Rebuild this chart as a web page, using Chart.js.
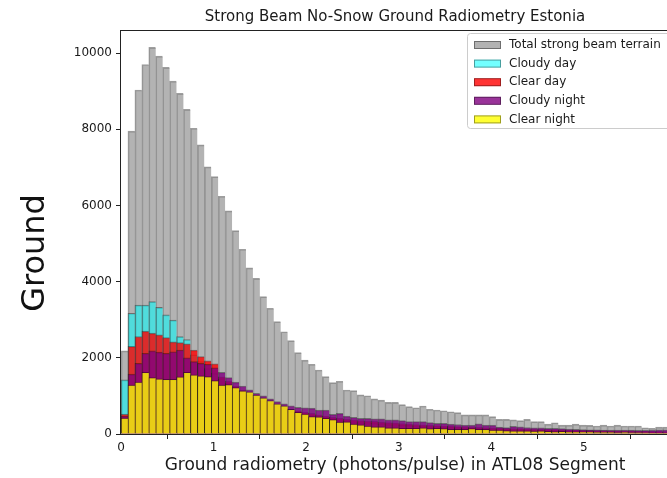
<!DOCTYPE html>
<html>
<head>
<meta charset="utf-8">
<script src="https://cdn.jsdelivr.net/npm/chart.js@4.4.1/dist/chart.umd.min.js"></script>
<style>
  html, body { margin: 0; padding: 0; background: #fff; overflow: hidden; }
  #wrap { width: 672px; height: 478px; }
</style>
</head>
<body>
<div id="wrap"><canvas id="radioChart"></canvas></div>
<script>
// histogram bins start at 0, fixed width (photons/pulse)
var binWidth = 0.075;

// counts per bin, one array per class
var total = [2180, 7950, 9030, 9700, 10150, 9920, 9625, 9265, 8940, 8520,
  8025, 7590, 7010, 6755, 6240, 5855, 5340, 4850, 4360, 4085,
  3605, 3300, 2950, 2685, 2450, 2135, 1940, 1830, 1680, 1505,
  1350, 1385, 1155, 1140, 1025, 1005, 920, 890, 830, 830,
  770, 720, 690, 735, 650, 630, 610, 585, 560, 500,
  500, 500, 500, 455, 385, 385, 370, 350, 385, 325,
  325, 260, 295, 235, 235, 260, 235, 225, 210, 235,
  210, 235, 210, 210, 210, 165, 150, 180, 180];
var cloudyDay = [1420, 3170, 3385, 3385, 3475, 3325, 3125, 2990, 2555, 2480,
  2080, 1900, 1720, 1600, 1450, 1330, 1220, 1120, 1020, 940,
  860, 780, 720, 660, 610, 560, 520, 490, 460, 420,
  390, 370, 340, 320, 300, 290, 280, 270, 250, 240,
  230, 220, 210, 200, 190, 185, 180, 170, 160, 150,
  145, 140, 135, 130, 125, 120, 115, 110, 105, 100,
  95, 90, 90, 85, 80, 80, 75, 75, 70, 70,
  65, 65, 60, 60, 55, 55, 50, 50, 50];
var clearDay = [525, 2300, 2560, 2700, 2650, 2600, 2530, 2420, 2400, 2370,
  2200, 2030, 1920, 1840, 1500, 1380, 1260, 1150, 1060, 980,
  900, 830, 760, 700, 650, 610, 570, 540, 500, 470,
  440, 420, 390, 370, 350, 340, 330, 315, 300, 290,
  275, 260, 250, 240, 230, 220, 215, 205, 195, 185,
  180, 175, 170, 165, 160, 150, 145, 140, 135, 130,
  125, 120, 115, 110, 105, 100, 95, 95, 90, 90,
  85, 85, 80, 80, 75, 75, 70, 70, 65];
var cloudyNight = [470, 1570, 1855, 2120, 2180, 2150, 2120, 2160, 2205, 2000,
  1900, 1855, 1830, 1740, 1620, 1480, 1360, 1260, 1160, 1070,
  1000, 920, 850, 790, 740, 700, 690, 680, 630, 630,
  515, 540, 470, 440, 410, 410, 400, 400, 370, 370,
  350, 325, 325, 325, 300, 280, 280, 260, 250, 235,
  235, 270, 235, 235, 180, 170, 200, 190, 170, 165,
  160, 150, 150, 140, 130, 120, 115, 110, 110, 105,
  105, 100, 100, 100, 95, 95, 100, 110, 110];
var clearNight = [420, 1285, 1360, 1620, 1480, 1450, 1435, 1435, 1500, 1620,
  1550, 1530, 1505, 1400, 1285, 1300, 1220, 1130, 1110, 1020,
  950, 880, 790, 740, 650, 570, 520, 460, 450, 410,
  380, 310, 320, 260, 240, 210, 190, 185, 165, 165,
  150, 150, 150, 160, 140, 150, 140, 125, 125, 125,
  145, 125, 120, 105, 100, 90, 85, 85, 80, 75,
  80, 70, 65, 70, 60, 60, 55, 60, 50, 45,
  50, 40, 45, 40, 35, 30, 25, 20, 20];

var seriesNames = ['Total strong beam terrain', 'Cloudy day', 'Clear day', 'Cloudy night', 'Clear night'];
var seriesColors = ['rgba(128,128,128,0.6)', 'rgba(0,255,255,0.55)', 'rgba(255,0,0,0.8)',
  'rgba(128,0,128,0.8)', 'rgba(255,255,0,0.8)'];
var xTicks = [0, 1, 2, 3, 4, 5];
var yTicks = [0, 2000, 4000, 6000, 8000, 10000];

var edgeColor = 'rgba(0,0,0,0.38)';
var textColor = '#1a1a1a';
Chart.defaults.font.family = '"DejaVu Sans", sans-serif';
Chart.defaults.color = textColor;

// bar centre = middle of each bin
function toPoints(values) {
  return values.map(function (v, i) {
    return { x: (i + 0.5) * binWidth, y: v };
  });
}

var allSeries = [total, cloudyDay, clearDay, cloudyNight, clearNight];
var datasets = allSeries.map(function (values, k) {
  return {
    label: seriesNames[k],
    data: toPoints(values),
    backgroundColor: seriesColors[k],
    borderColor: edgeColor,
    borderWidth: { left: 1, top: 1, right: 0, bottom: 0 },
    borderSkipped: false,
    grouped: false,
    barPercentage: 1,
    categoryPercentage: 1,
    order: allSeries.length - k   // later classes drawn on top
  };
});

// axes frame, plus the legend box and the big y label
var frameAndLegend = {
  id: 'frameAndLegend',
  afterDatasetsDraw: function (chart) {
    var a = chart.chartArea;
    var ctx = chart.ctx;
    ctx.save();
    ctx.strokeStyle = '#222';
    ctx.lineWidth = 1;
    ctx.strokeRect(Math.round(a.left) - 0.5, Math.round(a.top) + 0.5,
      Math.round(a.right - a.left) + 1, Math.round(a.bottom - a.top));
    ctx.restore();
  },
  afterDraw: function (chart) {
    var ctx = chart.ctx;
    ctx.save();
    // legend box
    var bx = 467.5, by = 33.5, bw = 215, bh = 95, r = 3;
    ctx.beginPath();
    ctx.moveTo(bx + r, by);
    ctx.lineTo(bx + bw - r, by);
    ctx.arcTo(bx + bw, by, bx + bw, by + r, r);
    ctx.lineTo(bx + bw, by + bh - r);
    ctx.arcTo(bx + bw, by + bh, bx + bw - r, by + bh, r);
    ctx.lineTo(bx + r, by + bh);
    ctx.arcTo(bx, by + bh, bx, by + bh - r, r);
    ctx.lineTo(bx, by + r);
    ctx.arcTo(bx, by, bx + r, by, r);
    ctx.closePath();
    ctx.fillStyle = 'rgba(255,255,255,0.85)';
    ctx.fill();
    ctx.strokeStyle = '#cccccc';
    ctx.lineWidth = 1;
    ctx.stroke();

    ctx.font = '12px "DejaVu Sans"';
    ctx.textBaseline = 'middle';
    ctx.textAlign = 'left';
    for (var i = 0; i < seriesNames.length; i++) {
      var cy = 45 + i * 18.6;
      ctx.fillStyle = seriesColors[i];
      ctx.fillRect(474, cy - 4, 27, 8);
      ctx.strokeStyle = edgeColor;
      ctx.strokeRect(474.5, cy - 3.5, 26, 7);
      ctx.fillStyle = textColor;
      ctx.fillText(seriesNames[i], 509, cy);
    }

    // y axis label
    ctx.translate(36, 253);
    ctx.rotate(-Math.PI / 2);
    ctx.textAlign = 'center';
    ctx.font = '32px "DejaVu Sans"';
    ctx.fillStyle = '#111';
    ctx.fillText('Ground', 0, 0);
    ctx.restore();
  }
};

var ctx = document.getElementById('radioChart');
var radioChart = new Chart(ctx, {
  type: 'bar',
  data: { datasets: datasets },
  options: {
    responsive: true,
    maintainAspectRatio: false,
    animation: false,
    layout: { padding: { left: 0, right: 3, top: 0, bottom: 0 } },
    plugins: {
      legend: { display: false },
      tooltip: { enabled: false },
      title: {
        display: true,
        text: 'Strong Beam No-Snow Ground Radiometry Estonia',
        fullSize: false,
        color: textColor,
        font: { size: 15, weight: 'normal' },
        padding: { top: 8, bottom: 4 }
      }
    },
    scales: {
      x: {
        type: 'linear',
        min: 0,
        max: 5.92,
        offset: false,
        afterBuildTicks: function (axis) {
          axis.ticks = xTicks.map(function (v) { return { value: v }; });
        },
        afterFit: function (axis) { axis.height = 44; },
        ticks: { font: { size: 12 }, padding: 2, maxRotation: 0,
          callback: function (v) { return String(v); } },
        grid: { drawOnChartArea: false, drawTicks: true, tickLength: 5, color: '#222' },
        border: { display: false },
        title: {
          display: true,
          text: 'Ground radiometry (photons/pulse) in ATL08 Segment',
          font: { size: 17 },
          color: textColor,
          padding: { top: 0, bottom: 1.8 }
        }
      },
      y: {
        min: 0,
        max: 10605,
        afterBuildTicks: function (axis) {
          axis.ticks = yTicks.map(function (v) { return { value: v }; });
        },
        afterFit: function (axis) { axis.width = 121; },
        ticks: { font: { size: 12 }, padding: 4,
          callback: function (v) { return String(v); } },
        grid: { drawOnChartArea: false, drawTicks: true, tickLength: 5, color: '#222' },
        border: { display: false }
      }
    }
  },
  plugins: [frameAndLegend]
});
</script>
</body>
</html>
